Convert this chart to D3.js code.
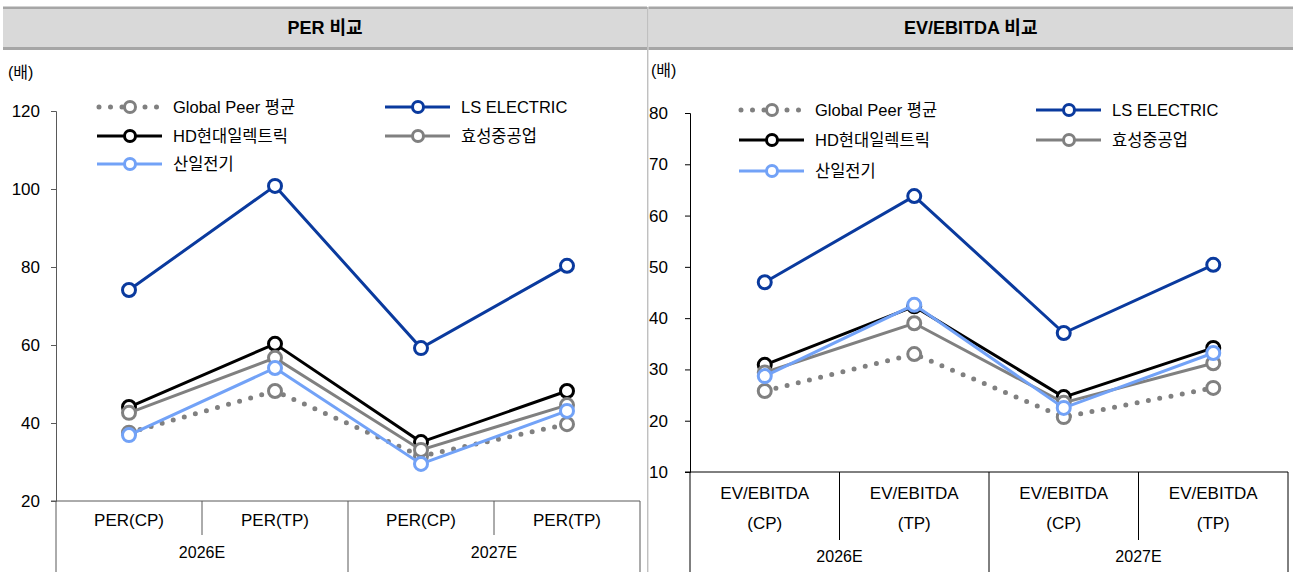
<!DOCTYPE html>
<html lang="ko">
<head>
<meta charset="utf-8">
<title>PER / EV/EBITDA 비교</title>
<script src="https://cdnjs.cloudflare.com/ajax/libs/d3/7.8.5/d3.min.js"></script>
<style>
  body { margin:0; background:#fff; }
  text { font-family: "Liberation Sans Narrow", "Liberation Sans", "Noto Sans CJK KR", sans-serif; fill:#000; }
</style>
</head>
<body>
<svg id="chart" width="1293" height="572"></svg>
<script>
// ---- data ----
var perCats = ["PER(CP)", "PER(TP)", "PER(CP)", "PER(TP)"];
var evCatTop = ["EV/EBITDA", "EV/EBITDA", "EV/EBITDA", "EV/EBITDA"];
var evCatBottom = ["(CP)", "(TP)", "(CP)", "(TP)"];
var yearGroups = ["2026E", "2027E"];

var seriesNames = ["Global Peer 평균", "LS ELECTRIC", "HD현대일렉트릭", "효성중공업", "산일전기"];
var seriesColors = ["#808080", "#0a3a9e", "#000000", "#808080", "#72a2f7"];

var perGlobal = [37.5, 48.2, 31.5, 39.7];
var perLS     = [74.1, 100.8, 59.2, 80.3];
var perHD     = [44.1, 60.3, 35.1, 48.2];
var perHyo    = [42.6, 56.7, 33.1, 44.6];
var perSanil  = [36.9, 54.1, 29.5, 43.1];

var evGlobal = [25.8, 33.0, 20.7, 26.4];
var evLS     = [47.0, 63.8, 37.1, 50.4];
var evHD     = [30.9, 42.3, 24.6, 34.2];
var evHyo    = [29.4, 39.0, 23.5, 31.2];
var evSanil  = [28.7, 42.6, 22.5, 33.2];

var perTicks = [20, 40, 60, 80, 100, 120];
var evTicks = [10, 20, 30, 40, 50, 60, 70, 80];

var svg = d3.select("#chart");

// header bars
function header(x0, x1, title) {
  svg.append("rect").attr("x", x0).attr("y", 9).attr("width", x1 - x0).attr("height", 38).attr("fill", "#d9d9d9");
  svg.append("rect").attr("x", x0).attr("y", 6.5).attr("width", x1 - x0).attr("height", 2.5).attr("fill", "#a6a6a6");
  svg.append("rect").attr("x", x0).attr("y", 47).attr("width", x1 - x0).attr("height", 3).attr("fill", "#a6a6a6");
  svg.append("text").attr("x", (x0 + x1) / 2).attr("y", 28).attr("text-anchor", "middle")
    .attr("dominant-baseline", "central").attr("font-size", "18px").attr("font-weight", "bold").text(title);
}
header(3, 647, "PER 비교");
header(648.5, 1293, "EV/EBITDA 비교");
svg.append("line").attr("x1", 647.8).attr("x2", 647.8).attr("y1", 7).attr("y2", 572)
  .attr("stroke", "#a6a6a6").attr("stroke-width", 1);

function drawPanel(p) {
  var x = d3.scaleBand().domain(d3.range(4)).range([p.left, p.right]).paddingInner(0).paddingOuter(0);
  var y = d3.scaleLinear().domain(p.domain).range([p.bottom, p.top]);
  var g = svg.append("g");

  // unit
  g.append("text").attr("x", p.unitX).attr("y", p.unitY).attr("dominant-baseline", "central")
    .attr("font-size", "16px").text("(배)");

  // y axis
  var ax = g.append("g").attr("transform", "translate(" + p.left + ",0)")
    .call(d3.axisLeft(y).tickValues(p.ticks).tickSize(5).tickSizeOuter(5).tickPadding(p.pad));
  ax.select(".domain").attr("stroke", p.axisColor);
  ax.selectAll(".tick line").attr("stroke", p.axisColor);
  ax.selectAll(".tick text").attr("font-size", "17px").attr("fill", "#000")
    .style("font-family", "'Liberation Sans Narrow','Liberation Sans',sans-serif");

  // category table
  g.append("line").attr("x1", p.left - 5).attr("x2", p.right).attr("y1", p.bottom).attr("y2", p.bottom)
    .attr("stroke", p.axisColor);
  g.append("line").attr("x1", p.left).attr("x2", p.left).attr("y1", p.bottom).attr("y2", 572)
    .attr("stroke", p.axisColor);
  d3.range(1, 5).forEach(function (i) {
    var xx = i < 4 ? x(i) : p.right;
    var yEnd = (i % 2 === 0) ? 572 : p.innerEnd;
    g.append("line").attr("x1", xx).attr("x2", xx).attr("y1", p.bottom).attr("y2", yEnd)
      .attr("stroke", p.axisColor);
  });
  p.catRows.forEach(function (row) {
    g.selectAll(null).data(row.labels).enter().append("text")
      .attr("x", function (d, i) { return x(i) + x.bandwidth() / 2; })
      .attr("y", row.y).attr("text-anchor", "middle").attr("dominant-baseline", "central")
      .attr("font-size", "17px").text(function (d) { return d; });
  });
  g.selectAll(null).data(yearGroups).enter().append("text")
    .attr("x", function (d, i) { return x(i * 2 + 1); })
    .attr("y", p.yearY).attr("text-anchor", "middle").attr("dominant-baseline", "central")
    .attr("font-size", "16px").text(function (d) { return d; });

  // lines
  var line = d3.line().x(function (d, i) { return x(i) + x.bandwidth() / 2; }).y(function (d) { return y(d); });
  p.series.forEach(function (vals, s) {
    var path = g.append("path").datum(vals).attr("d", line).attr("fill", "none")
      .attr("stroke", seriesColors[s]);
    if (s === 0) {
      path.attr("stroke-width", 5).attr("stroke-linecap", "round").attr("stroke-dasharray", "0 11.5");
    } else {
      path.attr("stroke-width", 3);
    }
    g.selectAll(null).data(vals).enter().append("circle")
      .attr("cx", function (d, i) { return x(i) + x.bandwidth() / 2; })
      .attr("cy", function (d) { return y(d); })
      .attr("r", 6.5).attr("fill", "#fff").attr("stroke", seriesColors[s]).attr("stroke-width", 3);
  });

  // legend
  seriesNames.forEach(function (name, s) {
    var lx = p.legX[s % 2], ly = p.legY[Math.floor(s / 2)];
    var lg = g.append("g");
    var l = lg.append("line").attr("x1", lx).attr("x2", lx + 65).attr("y1", ly).attr("y2", ly)
      .attr("stroke", seriesColors[s]);
    if (s === 0) {
      l.attr("stroke-width", 5).attr("stroke-linecap", "round").attr("stroke-dasharray", "0 11.5")
        .attr("x1", lx + 2);
    } else {
      l.attr("stroke-width", 3);
    }
    lg.append("circle").attr("cx", lx + 33).attr("cy", ly).attr("r", 5.5).attr("fill", "#fff")
      .attr("stroke", seriesColors[s]).attr("stroke-width", 3);
    lg.append("text").attr("x", lx + 76).attr("y", ly).attr("dominant-baseline", "central")
      .attr("font-size", "16.5px").text(name);
  });
}

drawPanel({
  left: 56, right: 640, top: 111, bottom: 501, domain: [20, 120], ticks: perTicks, pad: 11,
  axisColor: "#595959", innerEnd: 535, unitX: 8, unitY: 72, yearY: 552,
  catRows: [{ labels: perCats, y: 520 }],
  series: [perGlobal, perLS, perHD, perHyo, perSanil],
  legX: [97, 385], legY: [107, 136, 164]
});

drawPanel({
  left: 690, right: 1288, top: 113, bottom: 472, domain: [10, 80], ticks: evTicks, pad: 17,
  axisColor: "#000000", innerEnd: 540, unitX: 651, unitY: 70, yearY: 556,
  catRows: [{ labels: evCatTop, y: 493 }, { labels: evCatBottom, y: 523 }],
  series: [evGlobal, evLS, evHD, evHyo, evSanil],
  legX: [739, 1036], legY: [110, 140, 171]
});
</script>
</body>
</html>
